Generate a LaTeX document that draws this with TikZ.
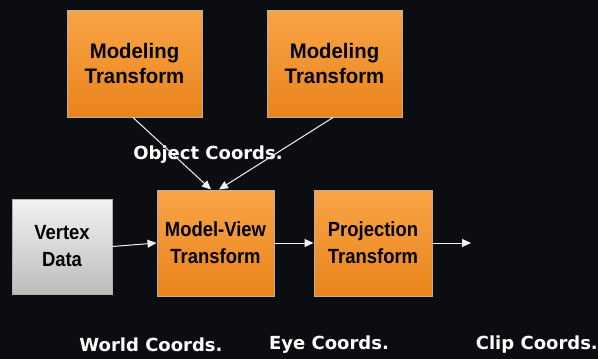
\documentclass[tikz,border=0pt]{standalone}
\usepackage{fontspec}
\setmainfont{Liberation Sans}
\newfontfamily\topfont[FakeStretch=0.97]{Liberation Sans}
\newfontfamily\lowfont[FakeStretch=0.9]{Liberation Sans}
\newfontfamily\labelfont{DejaVu Sans}
\usetikzlibrary{arrows.meta}
\definecolor{bg}{HTML}{0B0D11}
\definecolor{orangetop}{HTML}{F9A447}
\definecolor{orangebot}{HTML}{E9841B}
\definecolor{greytop}{HTML}{F2F2F2}
\definecolor{greybot}{HTML}{BDBDBD}
\definecolor{rim}{HTML}{B8B0A8}
\tikzset{
  box/.style={draw=rim, line width=1pt, align=center, text=black, inner sep=0pt},
  stage/.style={box, top color=orangetop, bottom color=orangebot},
  source/.style={box, top color=greytop, bottom color=greybot},
  upper/.style={font=\topfont\bfseries\fontsize{21}{25}\selectfont},
  lower/.style={font=\lowfont\bfseries\fontsize{20.5}{27}\selectfont},
  flow/.style={draw=white!90!gray, line width=1pt, -{Triangle[length=9pt,width=8pt]}},
  coordlabel/.style={text=white, font=\labelfont\bfseries\fontsize{18}{21}\selectfont, inner sep=0pt}
}
\begin{document}
\begin{tikzpicture}[x=1pt,y=-1pt]
  \fill[bg] (0,0) rectangle (598,359);
  \useasboundingbox (0,0) rectangle (598,359);

  \node[stage, upper, minimum width=135pt, minimum height=107pt] (mt1) at (134.5,63.5) {Modeling\\Transform};
  \node[stage, upper, minimum width=135pt, minimum height=107pt] (mt2) at (334.5,63.5) {Modeling\\Transform};
  \node[source, lower, minimum width=100pt, minimum height=95pt] (vd) at (62,246.5) {Vertex\\Data};
  \node[stage, lower, minimum width=117pt, minimum height=106pt] (mv) at (215.5,243) {Model-View\\Transform};
  \node[stage, lower, minimum width=118pt, minimum height=106pt] (pr) at (373,243) {Projection\\Transform};
  \coordinate (out) at (471,243);

  \node[coordlabel] (obj) at (208,155) {Object Coords.};
  \node[coordlabel] (world) at (151,345) {World Coords.};
  \node[coordlabel] (eye) at (329,345) {Eye Coords.};
  \node[coordlabel, anchor=east] (clip) at (598,345) {Clip Coords.};

  \draw[flow] ([xshift=-1.5pt]mt1.south) -- ([xshift=-4.5pt]mv.north);
  \draw[flow] ([xshift=-1.5pt]mt2.south) -- ([xshift=3.5pt]mv.north);
  \draw[flow] (vd.east) -- (mv.west);
  \draw[flow] (mv.east) -- (pr.west);
  \draw[flow] (pr.east) -- (out);
\end{tikzpicture}
\end{document}
